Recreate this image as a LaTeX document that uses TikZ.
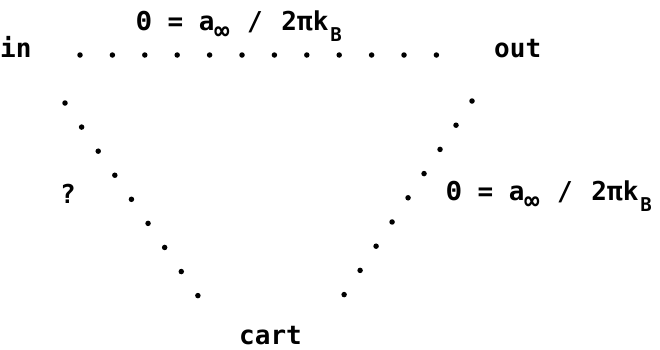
\documentclass[tikz,border=0pt]{standalone}
\usepackage{fontspec}
\newfontfamily\pix{DejaVu Sans Mono}
\begin{document}
\begin{tikzpicture}[x=1pt,y=-1pt,
  lbl/.style={anchor=base west,inner sep=0pt,font=\pix\bfseries\fontsize{26}{26}\selectfont},
  dots/.style={line width=5.5pt,line cap=round,draw=black}]
\useasboundingbox (0,0) rectangle (660,349);
\newcommand{\subinf}{\raisebox{-9pt}{\fontsize{25}{25}\selectfont ∞}}
\newcommand{\subB}{\raisebox{-11pt}{\fontsize{19}{19}\selectfont B}}
\newcommand{\formula}{Θ = a\subinf\kern2pt{} / \kern3pt2πk\kern2pt\subB}
\node[lbl] (in) at (0,57) {in};
\node[lbl] (out) at (494,57) {out};
\node[lbl] (cart) at (239,344) {cart};
\node[lbl] (q) at (60,203) {?};
\node[lbl] (f1) at (136,30) {\formula};
\node[lbl] (f2) at (446,200) {\formula};
\coordinate (t1) at (80,55);
\coordinate (t2) at (437.5,55);
\coordinate (l1) at (65,103);
\coordinate (l2) at (198.5,296.5);
\coordinate (r1) at (472,101);
\coordinate (r2) at (343.5,295.5);
\draw[dots,dash pattern=on 0pt off 32.4pt] (t1) -- (t2);
\draw[dots,dash pattern=on 0pt off 29.25pt] (l1) -- (l2);
\draw[dots,dash pattern=on 0pt off 29.0pt] (r1) -- (r2);
\end{tikzpicture}
\end{document}
